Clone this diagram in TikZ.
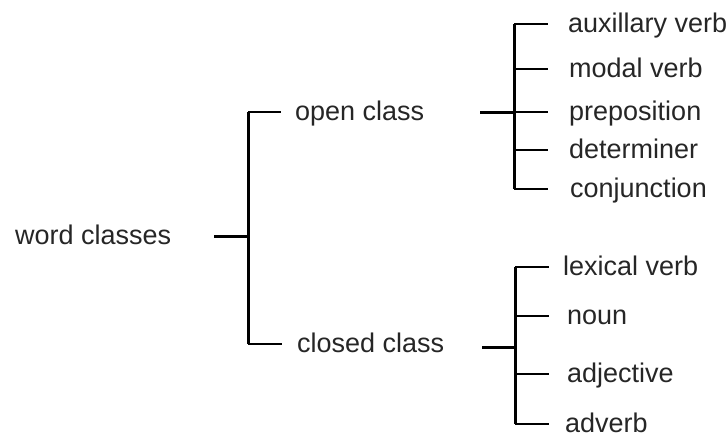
\documentclass[tikz,border=0pt]{standalone}
\usepackage{fontspec}
\setmainfont{Liberation Sans}
\begin{document}
\begin{tikzpicture}[x=1pt,y=-1pt,
  lbl/.style={anchor=west,inner sep=0pt,text height=17pt,text depth=0pt,font=\fontsize{27}{30}\selectfont,text=black!85},
  thk/.style={line width=3pt},
  thn/.style={line width=1.5pt}]
\useasboundingbox (0,0) rectangle (726,434);
% labels
\node[lbl] (root) at (15,236) {word classes};
\node[lbl] (open) at (295,112) {open class};
\node[lbl] (closed) at (297,344) {closed class};
\node[lbl] (aux) at (568,24) {auxillary verb};
\node[lbl] (modal) at (569,69) {modal verb};
\node[lbl] (prep) at (569,112) {preposition};
\node[lbl] (det) at (569,150) {determiner};
\node[lbl] (conj) at (570,189) {conjunction};
\node[lbl] (lex) at (563,267) {lexical verb};
\node[lbl] (noun) at (567,316) {noun};
\node[lbl] (adj) at (567,374) {adjective};
\node[lbl] (adv) at (565,424) {adverb};
% junctions
\coordinate (r0) at (214,236);
\coordinate (j0) at (248,236);
\coordinate (o0) at (480,112);
\coordinate (j1) at (514,112);
\coordinate (c0) at (482,347);
\coordinate (j2) at (515,347);
% root bracket
\draw[thk] (r0) -- (j0);
\draw[thk] (j0 |- open.west) -- (j0 |- closed.west);
\draw[thn] (j0 |- open.west) -- ++(33,0);
\draw[thn] (j0 |- closed.west) -- ++(34,0);
% open class bracket
\draw[thk] (o0) -- (j1);
\draw[thk] (j1 |- aux.west) -- (j1 |- conj.west);
\foreach \n in {aux,modal,prep,det,conj}
  \draw[thn] (j1 |- \n.west) -- ++(34,0);
% closed class bracket
\draw[thk] (c0) -- (j2);
\draw[thk] (j2 |- lex.west) -- (j2 |- adv.west);
\foreach \n in {lex,noun,adj,adv}
  \draw[thn] (j2 |- \n.west) -- ++(34,0);
\end{tikzpicture}
\end{document}
